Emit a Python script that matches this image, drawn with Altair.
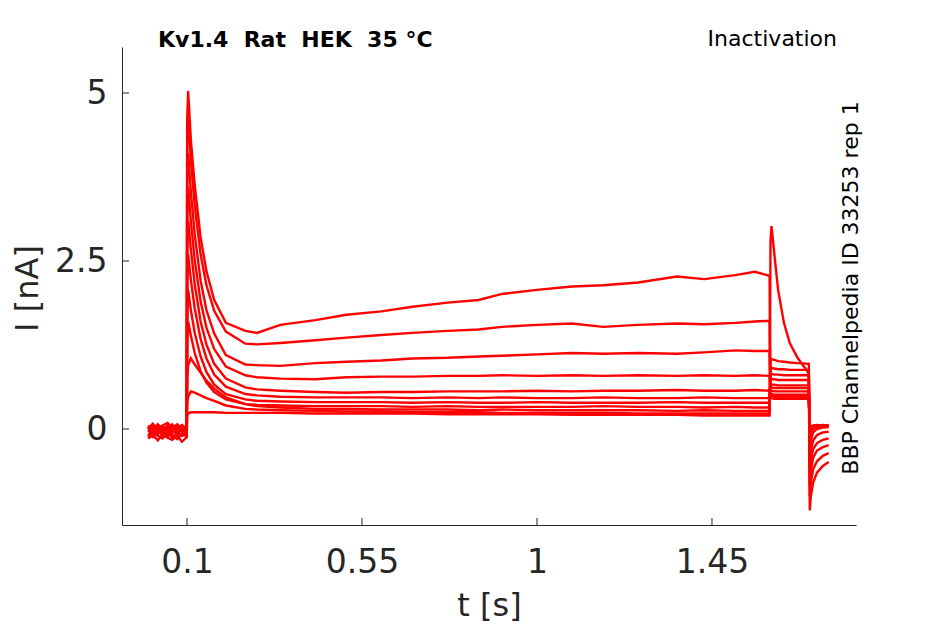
import altair as alt
import pandas as pd

# time grid (s): pre-pulse, conditioning step, test step, tail
T = [0.0, 0.012, 0.025, 0.037, 0.05, 0.062, 0.075, 0.087, 0.0995,
     0.1005, 0.103, 0.11, 0.12, 0.135, 0.15, 0.17, 0.2, 0.25, 0.28, 0.34, 0.43, 0.51, 0.6, 0.68,
     0.77, 0.85, 0.91, 1.0, 1.09, 1.17, 1.26, 1.36, 1.43, 1.51, 1.56, 1.598,
     1.6005, 1.603, 1.61, 1.62, 1.635, 1.65, 1.67, 1.699,
     1.7015, 1.704, 1.71, 1.72, 1.735, 1.75]

# current traces (nA), one per sweep
TRACE_A = [0.02, -0.05, 0.04, -0.02, 0.05, -0.06, 0.03, -0.01, 0.02,
           4.6, 5.03, 4.30, 3.62, 2.85, 2.35, 1.92, 1.58, 1.46, 1.43, 1.55, 1.62, 1.70, 1.75, 1.82,
           1.88, 1.92, 2.01, 2.07, 2.12, 2.14, 2.18, 2.27, 2.23, 2.29, 2.34, 2.28,
           0.46, 0.46, 0.45, 0.45, 0.45, 0.45, 0.45, 0.45,
           0.02, 0.04, 0.05, 0.06, 0.05, 0.06]
TRACE_B = [-0.04, 0.03, -0.08, 0.01, -0.03, 0.04, -0.07, 0.02, -0.03,
           4.2, 4.6, 4.00, 3.32, 2.60, 2.14, 1.76, 1.45, 1.27, 1.26, 1.28, 1.32, 1.36, 1.40, 1.43,
           1.46, 1.48, 1.52, 1.55, 1.57, 1.52, 1.55, 1.57, 1.56, 1.58, 1.60, 1.61,
           0.49, 0.49, 0.48, 0.48, 0.48, 0.48, 0.48, 0.48,
           0.0, 0.03, 0.05, 0.05, 0.06, 0.05]
TRACE_C = [0.05, -0.02, 0.01, -0.09, 0.03, -0.01, 0.06, -0.05, 0.0,
           3.7, 4.1, 3.53, 2.89, 2.21, 1.77, 1.42, 1.10, 0.96, 0.95, 0.94, 0.98, 1.00, 1.02, 1.05,
           1.06, 1.08, 1.09, 1.11, 1.13, 1.12, 1.13, 1.12, 1.14, 1.17, 1.16, 1.16,
           0.52, 0.52, 0.51, 0.51, 0.51, 0.51, 0.51, 0.51,
           -0.05, 0.01, 0.04, 0.05, 0.04, 0.05]
TRACE_D = [-0.1, -0.03, -0.07, 0.02, -0.11, -0.02, -0.06, 0.01, -0.08,
           3.2, 3.6, 3.09, 2.51, 1.90, 1.51, 1.19, 0.93, 0.80, 0.77, 0.75, 0.74, 0.77, 0.78, 0.78,
           0.79, 0.79, 0.80, 0.79, 0.80, 0.79, 0.80, 0.79, 0.80, 0.79, 0.80, 0.79,
           0.57, 0.57, 0.56, 0.56, 0.56, 0.56, 0.56, 0.56,
           -0.1, -0.02, 0.02, 0.04, 0.05, 0.04]
TRACE_E = [0.0, 0.06, -0.04, 0.04, -0.01, 0.07, -0.03, 0.05, 0.01,
           2.75, 3.1, 2.67, 2.15, 1.60, 1.26, 0.97, 0.75, 0.62, 0.59, 0.57, 0.55, 0.54, 0.55, 0.55,
           0.56, 0.56, 0.56, 0.57, 0.56, 0.57, 0.57, 0.58, 0.57, 0.57, 0.58, 0.57,
           0.62, 0.62, 0.61, 0.61, 0.61, 0.61, 0.61, 0.61,
           -0.2, -0.07, 0.0, 0.03, 0.04, 0.05]
TRACE_F = [-0.07, -0.12, -0.02, -0.09, -0.05, -0.13, -0.04, -0.1, -0.06,
           2.3, 2.6, 2.22, 1.79, 1.34, 1.05, 0.81, 0.63, 0.52, 0.50, 0.48, 0.47, 0.47, 0.47, 0.46,
           0.47, 0.46, 0.47, 0.46, 0.46, 0.47, 0.46, 0.46, 0.47, 0.46, 0.46, 0.46,
           0.67, 0.66, 0.66, 0.65, 0.65, 0.65, 0.65, 0.65,
           -0.35, -0.17, -0.05, 0.0, 0.02, 0.03]
TRACE_G = [0.03, -0.01, 0.07, 0.0, 0.04, -0.04, 0.02, 0.06, -0.02,
           1.8, 2.07, 1.77, 1.43, 1.08, 0.85, 0.66, 0.52, 0.44, 0.42, 0.41, 0.40, 0.40, 0.40, 0.39,
           0.40, 0.39, 0.39, 0.40, 0.39, 0.39, 0.39, 0.40, 0.39, 0.39, 0.39, 0.39,
           0.75, 0.74, 0.74, 0.73, 0.73, 0.73, 0.73, 0.73,
           -0.5, -0.32, -0.17, -0.09, -0.05, -0.04]
TRACE_H = [-0.12, -0.06, -0.1, -0.14, -0.05, -0.09, -0.15, -0.07, -0.11,
           1.35, 1.6, 1.39, 1.13, 0.86, 0.69, 0.55, 0.44, 0.37, 0.36, 0.35, 0.34, 0.34, 0.34, 0.33,
           0.34, 0.33, 0.33, 0.33, 0.33, 0.34, 0.33, 0.33, 0.32, 0.33, 0.32, 0.32,
           0.83, 0.82, 0.81, 0.81, 0.80, 0.80, 0.80, 0.80,
           -0.7, -0.47, -0.3, -0.21, -0.16, -0.14]
TRACE_I = [0.01, 0.08, 0.0, 0.05, 0.09, 0.02, 0.07, -0.01, 0.04,
           0.75, 0.95, 1.05, 0.96, 0.84, 0.72, 0.60, 0.47, 0.37, 0.34, 0.32, 0.30, 0.30, 0.29, 0.29,
           0.29, 0.28, 0.29, 0.28, 0.28, 0.28, 0.28, 0.27, 0.28, 0.27, 0.27, 0.27,
           0.92, 0.91, 0.90, 0.89, 0.89, 0.88, 0.88, 0.88,
           -0.85, -0.62, -0.43, -0.32, -0.27, -0.24]
TRACE_J = [-0.02, -0.08, 0.02, -0.05, -0.09, 0.0, -0.06, -0.1, -0.04,
           0.38, 0.48, 0.56, 0.54, 0.50, 0.46, 0.42, 0.35, 0.30, 0.29, 0.28, 0.27, 0.26, 0.26, 0.25,
           0.25, 0.25, 0.24, 0.24, 0.24, 0.24, 0.23, 0.23, 0.23, 0.23, 0.23, 0.23,
           1.05, 1.04, 1.03, 1.01, 1.00, 0.99, 0.98, 0.97,
           -1.0, -0.8, -0.6, -0.48, -0.4, -0.36]
TRACE_K = [-0.14, -0.09, -0.17, -0.08, -0.13, -0.16, -0.1, -0.19, -0.12,
           0.20, 0.23, 0.25, 0.25, 0.25, 0.25, 0.25, 0.24, 0.24, 0.24, 0.24, 0.23, 0.23, 0.23, 0.23,
           0.22, 0.22, 0.22, 0.22, 0.21, 0.21, 0.21, 0.21, 0.20, 0.20, 0.20, 0.20,
           2.8, 3.02, 2.62, 2.07, 1.58, 1.28, 1.06, 0.83,
           -1.21, -1.0, -0.8, -0.65, -0.55, -0.49]

X_TICKS = [0.1, 0.55, 1, 1.45]
Y_TICKS = [0, 2.5, 5]
X_DOMAIN = [-0.0671, 1.8203]
Y_DOMAIN = [-1.4286, 5.685]

TITLE = "Kv1.4\u00a0 Rat\u00a0 HEK\u00a0 35 °C"
PROTOCOL = "Inactivation"
SOURCE = "BBP Channelpedia ID 33253 rep 1"

traces = {"A": TRACE_A, "B": TRACE_B, "C": TRACE_C, "D": TRACE_D, "E": TRACE_E,
          "F": TRACE_F, "G": TRACE_G, "H": TRACE_H, "I": TRACE_I, "J": TRACE_J,
          "K": TRACE_K}
rows = []
for name, vals in traces.items():
    assert len(vals) == len(T), name
    for t, v in zip(T, vals):
        rows.append({"t": t, "I": v, "trace": name})
df = pd.DataFrame(rows)

W, H = 734, 478
FONT = "DejaVu Sans"
AX = "#262626"

xscale = alt.Scale(domain=X_DOMAIN, nice=False, zero=False)
yscale = alt.Scale(domain=Y_DOMAIN, nice=False, zero=False)

X_AXIS = alt.Axis(values=X_TICKS, labelExpr="'' + datum.value", title="t [s]", ticks=False,
                  tickSize=0, grid=False, labelPadding=47,
                  labelBaseline="alphabetic", labelFontSize=33,
                  titleFontSize=32, titleX=367, titleY=90,
                  titleBaseline="alphabetic", titleAlign="center")
Y_AXIS = alt.Axis(values=Y_TICKS, labelExpr="'' + datum.value", title="I [nA]", ticks=False,
                  tickSize=0, grid=False, labelPadding=15, labelFontSize=33,
                  titleFontSize=32, titleAngle=270, titleX=-84.7, titleY=241,
                  titleBaseline="alphabetic", titleAlign="center")

lines = alt.Chart(df).mark_line(color="#ff0000", strokeWidth=2.4).encode(
    x=alt.X("t:Q", scale=xscale, axis=X_AXIS, title="t [s]"),
    y=alt.Y("I:Q", scale=yscale, axis=Y_AXIS, title="I [nA]"),
    detail="trace:N",
    order="t:Q",
)

xticks = alt.Chart(pd.DataFrame({"t": X_TICKS})).mark_rule(color=AX, strokeWidth=1).encode(
    x=alt.X("t:Q", scale=xscale, axis=X_AXIS, title="t [s]"),
    y=alt.value(H), y2=alt.value(H - 7),
)
yticks = alt.Chart(pd.DataFrame({"I": Y_TICKS})).mark_rule(color=AX, strokeWidth=1).encode(
    y=alt.Y("I:Q", scale=yscale, axis=Y_AXIS, title="I [nA]"),
    x=alt.value(0), x2=alt.value(7),
)

title = alt.Chart(pd.DataFrame({"s": [TITLE]})).mark_text(
    font=FONT, fontSize=22, fontWeight="bold", color="#000000",
    align="left", baseline="alphabetic").encode(
    text="s:N", x=alt.value(36), y=alt.value(0))
proto = alt.Chart(pd.DataFrame({"s": [PROTOCOL]})).mark_text(
    font=FONT, fontSize=22, color="#000000",
    align="right", baseline="alphabetic").encode(
    text="s:N", x=alt.value(715), y=alt.value(-1))
source = alt.Chart(pd.DataFrame({"s": [SOURCE]})).mark_text(
    font=FONT, fontSize=22, color="#000000", angle=270,
    align="center", baseline="alphabetic").encode(
    text="s:N", x=alt.value(736), y=alt.value(241))

chart = alt.layer(lines, xticks, yticks, title, proto, source).properties(
    width=W, height=H,
    autosize=alt.AutoSizeParams(type="none"),
    padding={"left": 114, "top": 39, "right": 81, "bottom": 97},
).configure_view(stroke="transparent").configure_axis(
    domainColor=AX, domainWidth=1, labelColor=AX, titleColor=AX,
    labelFont=FONT, titleFont=FONT, titleFontWeight="normal",
)

chart.save("out.html", embed_options={"renderer": "svg", "actions": False})
